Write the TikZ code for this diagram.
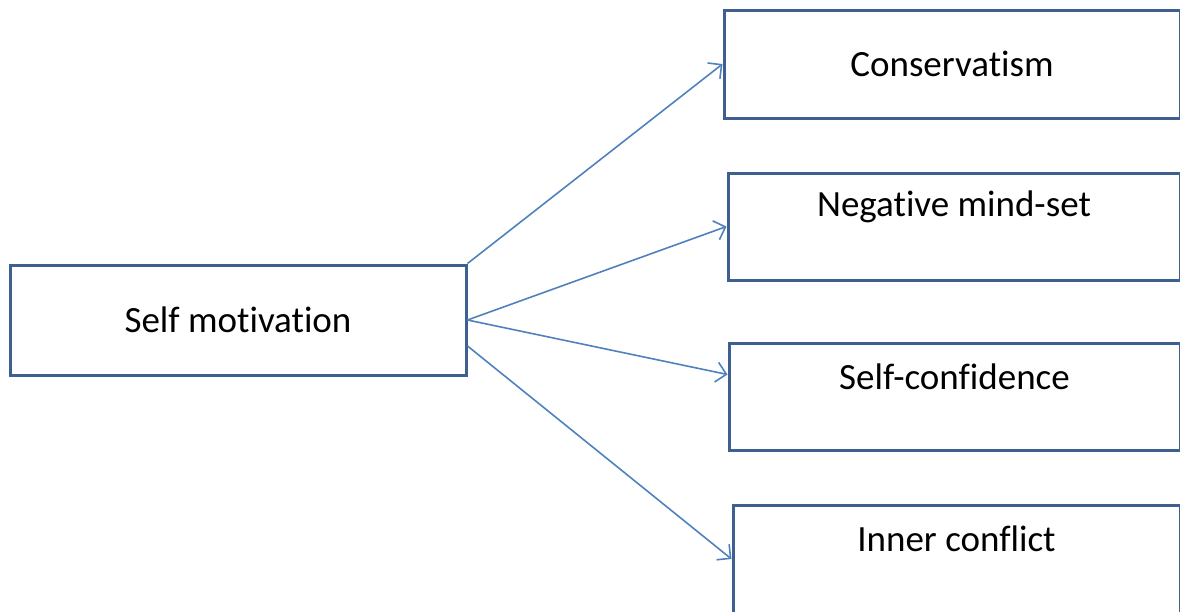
\documentclass[tikz,border=0pt]{standalone}
\usepackage{fontspec}
\setmainfont{Carlito}[Ligatures=NoCommon]
\usepackage{xcolor}
\usetikzlibrary{calc}
\usetikzlibrary{positioning,arrows,arrows.meta}
\definecolor{boxblue}{RGB}{62,96,145}
\definecolor{arrblue}{RGB}{79,129,189}
\tikzset{
  fbox/.style={draw=boxblue, line width=3pt, rectangle, inner sep=0pt},
  lbl/.style={font=\fontsize{37}{44}\selectfont, text=black},
  link/.style={-{Straight Barb[length=10pt,width=20pt]}, draw=arrblue, line width=1.6pt}
}

\begin{document}
\begin{tikzpicture}
\useasboundingbox (0,0) rectangle (1180pt,-611pt);
\clip (0,0) rectangle (1180pt,-611pt);
% main box
\node[fbox, minimum width=456pt, minimum height=110pt] (self) at (238pt,-320pt) {};
\node[lbl] (selft) at (self.center) {Self motivation};
% right hand boxes
\node[fbox, minimum width=456pt, minimum height=108pt] (cons) at (952pt,-64pt) {};
\node[lbl] (const) at (cons.center) {Conservatism};
\node[fbox, minimum width=452pt, minimum height=107pt] (neg) at (954pt,-226.5pt) {};
\node[lbl] (negt) at ([yshift=-35pt]neg.north) {Negative mind-set};
\node[fbox, minimum width=451pt, minimum height=107pt] (conf) at (954.5pt,-396.5pt) {};
\node[lbl] (conft) at ([yshift=-35pt]conf.north) {Self-confidence};
\node[fbox, minimum width=447pt, minimum height=108pt] (inner) at (956.5pt,-559pt) {};
\node[lbl] (innert) at ([yshift=-35pt]inner.north) {Inner conflict};
% arrows
\draw[link] (self.north east) -- (cons.west);
\draw[link] (self.east) -- (neg.west);
\draw[link] (self.east) -- ($(conf.north west)!0.3!(conf.south west)$);
\draw[link] ($(self.north east)!0.73!(self.south east)$) -- (inner.west);
\end{tikzpicture}
\end{document}
